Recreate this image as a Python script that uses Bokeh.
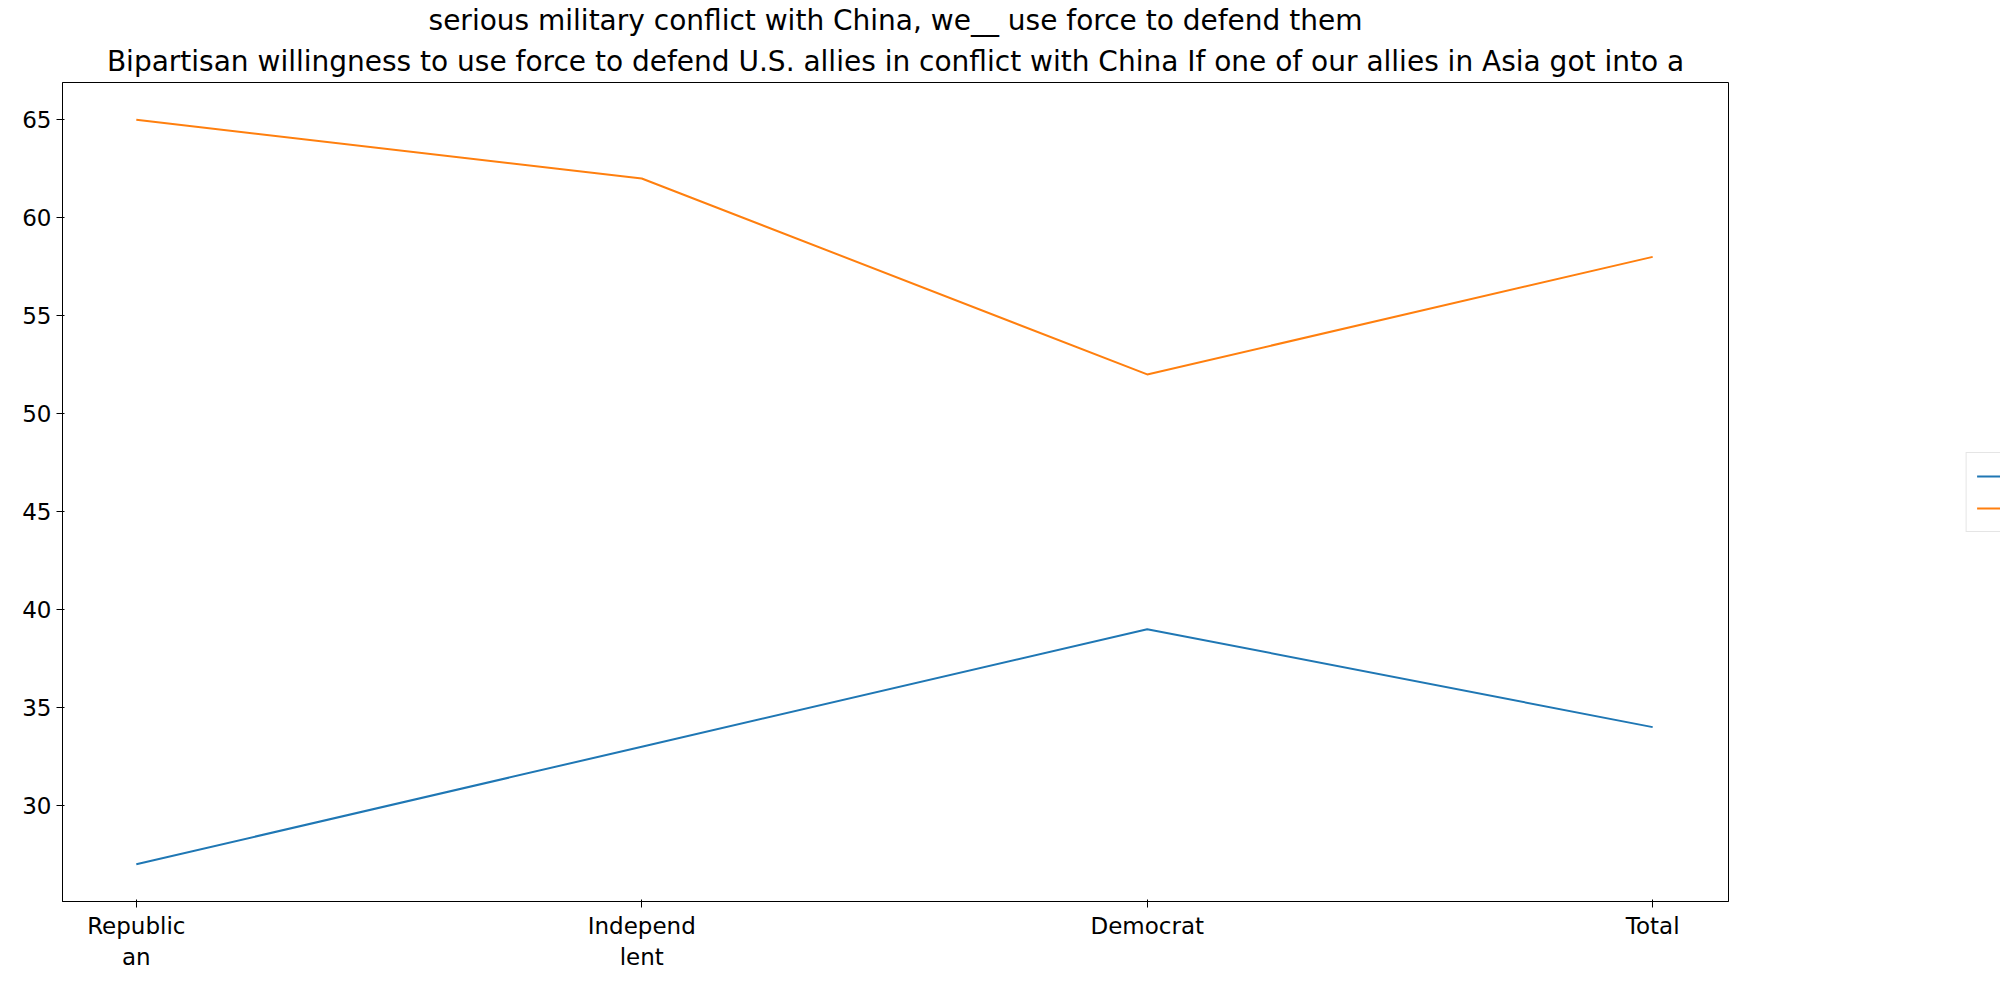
from bokeh.plotting import figure
from bokeh.models import Legend, Range1d, FixedTicker, Title
from bokeh.embed import file_html
from bokeh.resources import INLINE

groups = ["Republic\nan", "Independ\nlent", "Democrat", "Total"]
should_not = [27, 33, 39, 34]
should = [65, 62, 52, 58]
xs = list(range(len(groups)))

title_lines = ["Bipartisan willingness to use force to defend U.S. allies in conflict with China If one of our allies in Asia got into a",
               "serious military conflict with China, we__ use force to defend them"]

p = figure(frame_width=1666, frame_height=819, output_backend="svg", toolbar_location=None,
           x_range=Range1d(-0.146, 3.15), y_range=Range1d(25.1, 66.9),
           min_border_left=62, min_border_top=10, min_border_bottom=60, min_border_right=0)
p.title.text = title_lines[1]
p.title.align = "center"
p.title.text_font = "DejaVu Sans"
p.title.text_font_size = "28px"
p.title.text_font_style = "normal"
p.title.text_color = "black"
p.title.standoff = 2
p.add_layout(Title(text=title_lines[0], align="center", text_font="DejaVu Sans",
                   text_font_size="28px", text_font_style="normal", text_color="black"), "above")

r1 = p.line(xs, should_not, line_color="#1f77b4", line_width=2)
r2 = p.line(xs, should, line_color="#ff7f0e", line_width=2)

p.xaxis.ticker = FixedTicker(ticks=xs)
p.xaxis.major_label_overrides = {i: g for i, g in enumerate(groups)}
p.yaxis.ticker = FixedTicker(ticks=[30, 35, 40, 45, 50, 55, 60, 65])
for ax in (p.xaxis, p.yaxis):
    ax.major_label_text_font = "DejaVu Sans"
    ax.major_label_text_font_size = "23px"
    ax.major_label_text_color = "black"
    ax.minor_tick_line_color = None
    ax.axis_line_color = "black"
    ax.major_tick_line_color = "black"
    ax.major_tick_out = 6
p.grid.visible = False
p.outline_line_color = "black"

legend = Legend(items=[("Should not", [r1]), ("Should", [r2])], location="center",
                label_text_font="DejaVu Sans", label_text_font_size="23px",
                label_text_color="black", glyph_width=50,
                border_line_color="#cccccc", border_line_width=1, spacing=6, padding=10, margin=12)
p.add_layout(legend, "right")

open("out.html", "w").write(file_html(p, INLINE))
